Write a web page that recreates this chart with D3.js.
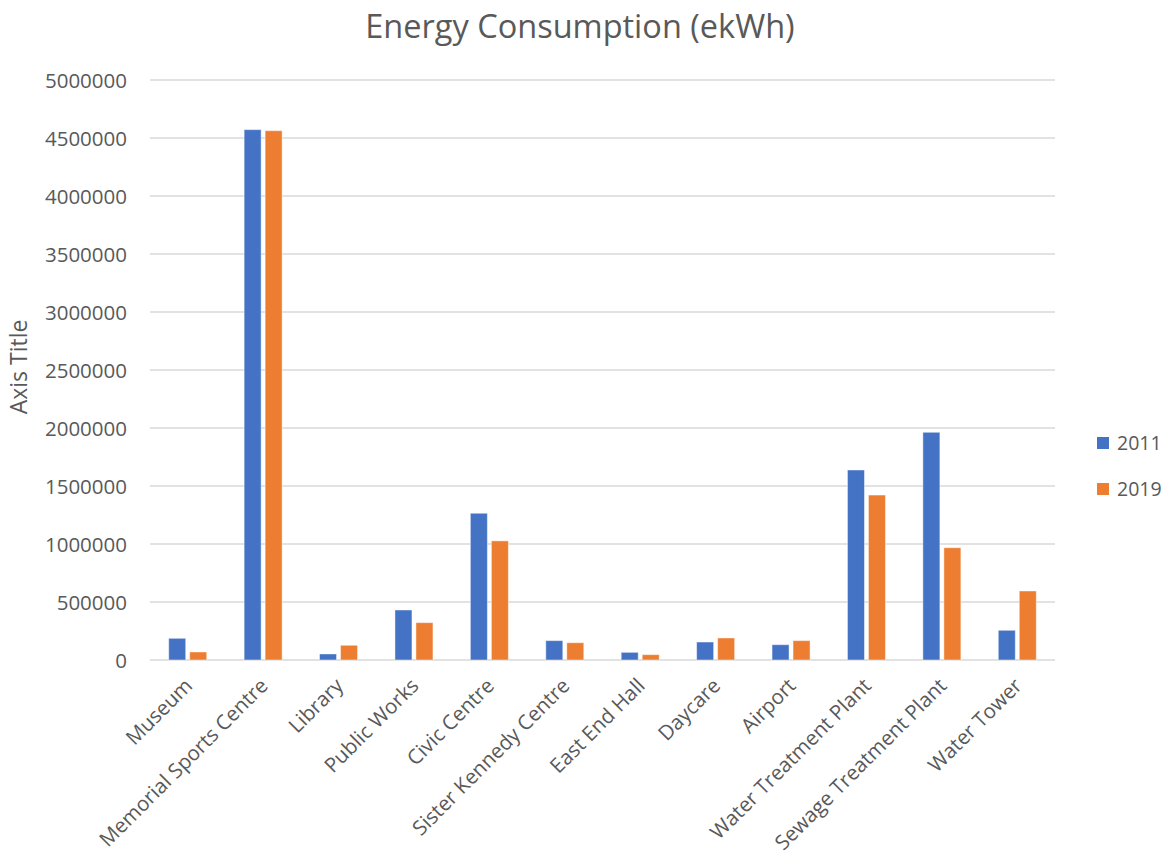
<!DOCTYPE html>
<html>
<head>
<meta charset="utf-8">
<script src="https://cdn.jsdelivr.net/npm/d3@7"></script>
<style>
  html, body { margin: 0; padding: 0; background: #fff; }
  svg { display: block; }
  text { font-family: "Open Sans", "DejaVu Sans", sans-serif; fill: #595959; }
</style>
</head>
<body>
<svg id="chart" width="1169" height="862"></svg>
<script>
// Buildings and their annual energy use (equivalent kWh)
const categories = ["Museum", "Memorial Sports Centre", "Library", "Public Works", "Civic Centre",
  "Sister Kennedy Centre", "East End Hall", "Daycare", "Airport", "Water Treatment Plant",
  "Sewage Treatment Plant", "Water Tower"];
const seriesNames = ["2011", "2019"];
const values2011 = [187000, 4572000, 52000, 431000, 1265000, 167000, 66000, 155000, 132000, 1638000, 1963000, 256000];
const values2019 = [69000, 4563000, 127000, 322000, 1027000, 149000, 46000, 190000, 167000, 1422000, 968000, 595000];
const yTicks = [0, 500000, 1000000, 1500000, 2000000, 2500000, 3000000, 3500000, 4000000, 4500000, 5000000];

const colors = ["#4472C4", "#ED7D31"];
const seriesValues = [values2011, values2019];

const svg = d3.select("#chart");
const plot = { left: 150, right: 1055, top: 80, bottom: 660 };

const x = d3.scaleBand().domain(categories).range([plot.left, plot.right]).padding(0);
const y = d3.scaleLinear().domain([0, 5000000]).range([plot.bottom, plot.top]);

const barW = 17, barGap = 4;
const xs = d3.scaleBand().domain(seriesNames).range([0, barW * 2 + barGap]).paddingInner(barGap / (barW + barGap));

// Horizontal gridlines
svg.append("g")
  .selectAll("line")
  .data(yTicks)
  .join("line")
  .attr("x1", plot.left).attr("x2", plot.right)
  .attr("y1", d => y(d)).attr("y2", d => y(d))
  .attr("stroke", "#d9d9d9").attr("stroke-width", 1.5);

// Y axis tick labels
const yAxis = d3.axisLeft(y).tickValues(yTicks).tickSize(0).tickPadding(0).tickFormat(d3.format("d"));
const gy = svg.append("g").attr("transform", `translate(127,0)`).call(yAxis);
gy.select(".domain").remove();
gy.selectAll("text").style("font-size", "20.5px").style("fill", "#595959")
  .style("font-family", "'Open Sans', sans-serif").attr("dy", "0.35em");

// Bars
const groups = svg.append("g")
  .selectAll("g")
  .data(categories)
  .join("g")
  .attr("transform", d => `translate(${x(d) + (x.bandwidth() - (barW * 2 + barGap)) / 2},0)`);

groups.selectAll("rect")
  .data((d, i) => seriesNames.map((s, j) => ({ s, v: seriesValues[j][i], j })))
  .join("rect")
  .attr("x", d => xs(d.s))
  .attr("width", xs.bandwidth())
  .attr("y", d => y(d.v))
  .attr("height", d => y(0) - y(d.v))
  .attr("fill", d => colors[d.j])
  .attr("stroke", "rgba(255,255,255,0.45)")
  .attr("stroke-width", 1);

// Category labels, rotated
const xAxis = d3.axisBottom(x).tickSize(0).tickPadding(0);
const gx = svg.append("g").attr("transform", `translate(0,${plot.bottom})`).call(xAxis);
gx.select(".domain").remove();
gx.selectAll("text")
  .style("font-size", "20.5px").style("fill", "#595959")
  .style("font-family", "'Open Sans', sans-serif")
  .attr("text-anchor", "end")
  .attr("x", 0).attr("y", 0).attr("dy", 0)
  .attr("transform", "translate(6,27) rotate(-45)");

// Chart title
svg.append("text")
  .attr("x", 580).attr("y", 38)
  .attr("text-anchor", "middle")
  .style("font-size", "32.5px")
  .text("Energy Consumption (ekWh)");

// Y axis title
svg.append("text")
  .attr("transform", "translate(27,367) rotate(-90)")
  .attr("text-anchor", "middle")
  .style("font-size", "23px")
  .text("Axis Title");

// Legend
const legend = svg.append("g")
  .selectAll("g")
  .data(seriesNames)
  .join("g")
  .attr("transform", (d, i) => `translate(1097,${437 + i * 46})`);
legend.append("rect").attr("width", 12).attr("height", 12).attr("fill", (d, i) => colors[i]);
legend.append("text").attr("x", 20).attr("y", 6).attr("dy", "0.35em")
  .style("font-size", "19.5px").text(d => d);
</script>
</body>
</html>
